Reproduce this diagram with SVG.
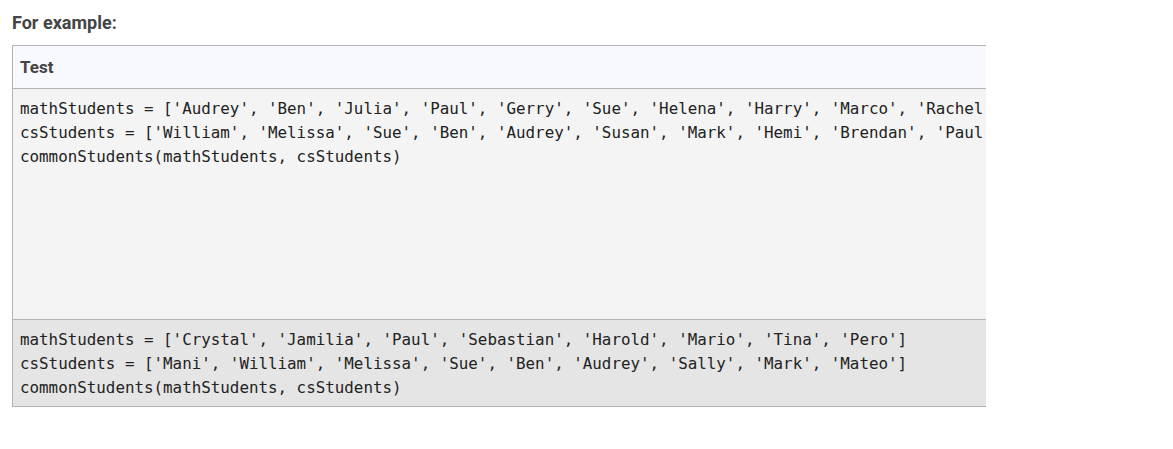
<svg xmlns="http://www.w3.org/2000/svg" width="1173" height="449" viewBox="0 0 1173 449">
<style>
.h{font-family:Roboto,"Liberation Sans",sans-serif;font-weight:bold;fill:#444;}
.c{font-family:"DejaVu Sans Mono","Liberation Mono",monospace;font-size:15.85px;fill:#222;}
</style>
<defs><clipPath id="cp"><rect x="0" y="0" width="986" height="449"/></clipPath></defs>
<rect width="1173" height="449" fill="#fff"/>
<text class="h" x="12" y="29" font-size="18">For example:</text>
<g id="table" clip-path="url(#cp)">
<rect x="12.5" y="45.5" width="1000" height="43" fill="#f8f8ff" stroke="#b3b3b3"/>
<text class="h" x="20" y="73" font-size="17">Test</text>
<rect x="12.5" y="88.5" width="1000" height="231" fill="#f4f4f4" stroke="#b3b3b3"/>
<rect x="12.5" y="319.5" width="1000" height="87" fill="#e5e5e5" stroke="#b3b3b3"/>
<text class="c" x="20" y="114">mathStudents = ['Audrey', 'Ben', 'Julia', 'Paul', 'Gerry', 'Sue', 'Helena', 'Harry', 'Marco', 'Rachel', 'Sophie']</text>
<text class="c" x="20" y="138">csStudents = ['William', 'Melissa', 'Sue', 'Ben', 'Audrey', 'Susan', 'Mark', 'Hemi', 'Brendan', 'Paul', 'Rachel']</text>
<text class="c" x="20" y="162">commonStudents(mathStudents, csStudents)</text>
<text class="c" x="20" y="345">mathStudents = ['Crystal', 'Jamilia', 'Paul', 'Sebastian', 'Harold', 'Mario', 'Tina', 'Pero']</text>
<text class="c" x="20" y="369">csStudents = ['Mani', 'William', 'Melissa', 'Sue', 'Ben', 'Audrey', 'Sally', 'Mark', 'Mateo']</text>
<text class="c" x="20" y="393">commonStudents(mathStudents, csStudents)</text>
</g>
</svg>
